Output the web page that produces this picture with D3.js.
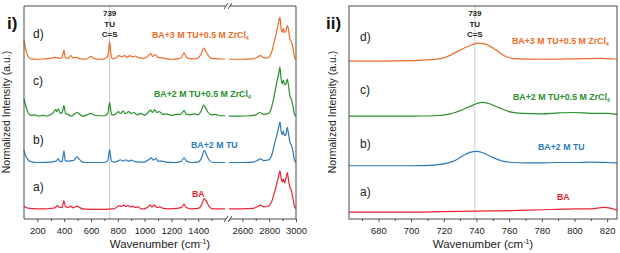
<!DOCTYPE html>
<html>
<head>
<meta charset="utf-8">
<script src="https://cdn.jsdelivr.net/npm/d3@7"></script>
<style>
  body { margin: 0; background: #fff; }
  svg { display: block; font-family: "Liberation Sans", Arial, sans-serif; }
</style>
</head>
<body>
<svg id="chart" width="620" height="253"></svg>
<script>
// ---- data ----
const tags = ["a)", "b)", "c)", "d)"];
const labels = ["BA", "BA+2 M TU", "BA+2 M TU+0.5 M ZrCl", "BA+3 M TU+0.5 M ZrCl"];
const labelSubs = ["", "", "4", "4"];
const colors = ["#ef2233", "#2c7bbd", "#27902a", "#ef6b24"];
const peakPos = 739;
const peakText = ["739", "TU", "C=S"];

// stacking offsets (a.u.)
const offsetsFull = [0, 1, 2, 3.23];
const offsetsZoom = [0, 1, 2.07, 3.26];

// tick labels
const ticksLow = [200, 400, 600, 800, 1000, 1200, 1400];
const ticksHigh = [2600, 2800, 3000];
const minorLow = [300, 500, 700, 900, 1100, 1300, 1500];
const minorHigh = [2500, 2700, 2900];
const ticksZoom = [680, 700, 720, 740, 760, 780, 800, 820];
const minorZoom = [670, 690, 710, 730, 750, 770, 790, 810];

// panel i spectra [wavenumber, intensity]
const fullA = [[100,.08],[115,.05],[140,.03],[200,.02],[260,.02],[300,.03],[330,.04],[350,.09],[365,.05],[385,.05],[398,.2],[408,.07],[430,.05],[450,.08],[465,.04],[480,.06],[495,.08],[515,.05],[540,.02],[600,.01],[700,.01],[760,.02],[790,.05],[810,.09],[825,.07],[845,.1],[860,.07],[875,.09],[895,.06],[910,.08],[930,.05],[950,.06],[975,.02],[1000,.02],[1025,.06],[1040,.1],[1055,.06],[1075,.1],[1090,.05],[1115,.06],[1140,.03],[1180,.02],[1240,.03],[1275,.05],[1295,.12],[1310,.05],[1350,.02],[1400,.03],[1425,.1],[1445,.24],[1460,.18],[1480,.08],[1510,.02],[1600,.02],
  [2500,.02],[2600,.02],[2680,.03],[2715,.07],[2735,.1],[2760,.06],[2790,.07],[2815,.15],[2840,.38],[2860,.6],[2872,.75],[2880,.84],[2888,.7],[2897,.6],[2905,.66],[2915,.58],[2925,.68],[2935,.8],[2945,.62],[2955,.48],[2965,.42],[2975,.28],[2988,.08],[3000,.02]];
const fullB = [[100,.28],[110,.18],[125,.1],[150,.04],[200,.02],[300,.03],[340,.05],[355,.1],[370,.04],[385,.05],[398,.27],[408,.06],[430,.05],[455,.06],[475,.07],[495,.15],[510,.1],[530,.04],[560,.02],[650,.02],[700,.02],[725,.06],[733,.2],[739,.3],[745,.18],[752,.05],[770,.03],[800,.05],[820,.08],[840,.05],[860,.08],[880,.05],[900,.07],[930,.04],[960,.03],[1000,.03],[1030,.08],[1050,.12],[1065,.07],[1085,.11],[1100,.05],[1130,.05],[1160,.03],[1220,.02],[1270,.04],[1295,.12],[1310,.06],[1350,.02],[1400,.03],[1425,.12],[1445,.28],[1460,.2],[1480,.08],[1510,.02],[1600,.02],
  [2500,.02],[2600,.02],[2680,.03],[2715,.07],[2735,.1],[2760,.06],[2790,.07],[2815,.15],[2840,.42],[2860,.65],[2872,.8],[2880,.9],[2888,.72],[2897,.62],[2905,.7],[2915,.6],[2925,.62],[2935,.78],[2943,.66],[2955,.45],[2968,.38],[2978,.25],[2988,.08],[3000,.02]];
const fullC = [[100,.4],[108,.3],[118,.2],[130,.1],[150,.04],[180,.05],[210,.02],[240,.04],[270,.02],[300,.06],[320,.1],[335,.16],[345,.12],[355,.18],[370,.08],[385,.1],[398,.25],[410,.08],[430,.06],[450,.02],[470,.05],[495,.1],[515,.06],[540,.02],[570,.05],[600,.08],[625,.04],[660,.03],[700,.03],[725,.08],[733,.22],[739,.32],[746,.18],[755,.05],[770,.05],[790,.08],[805,.12],[820,.08],[840,.13],[860,.07],[880,.12],[900,.08],[920,.1],[945,.05],[970,.08],[1000,.04],[1020,.08],[1045,.15],[1060,.1],[1075,.16],[1090,.1],[1110,.12],[1135,.06],[1165,.07],[1200,.04],[1240,.06],[1270,.06],[1295,.14],[1310,.06],[1340,.05],[1370,.07],[1400,.05],[1420,.12],[1440,.26],[1455,.2],[1475,.1],[1500,.05],[1530,.06],[1560,.03],[1600,.03],
  [2500,.02],[2580,.02],[2650,.03],[2700,.05],[2730,.1],[2760,.06],[2790,.07],[2815,.18],[2840,.5],[2860,.8],[2872,.95],[2880,1.08],[2888,.85],[2897,.72],[2905,.8],[2915,.7],[2925,.72],[2935,.82],[2943,.7],[2955,.45],[2968,.36],[2978,.22],[2988,.06],[3000,.02]];
const fullD = [[100,.42],[108,.3],[118,.18],[130,.08],[150,.03],[200,.02],[250,.03],[300,.04],[330,.06],[350,.05],[370,.04],[385,.06],[398,.22],[408,.06],[430,.04],[450,.1],[465,.05],[490,.06],[520,.03],[560,.02],[600,.08],[620,.04],[660,.02],[700,.03],[725,.08],[733,.25],[739,.4],[746,.2],[755,.05],[770,.03],[790,.06],[810,.1],[830,.07],[850,.1],[870,.06],[890,.1],[910,.07],[930,.09],[960,.05],[990,.04],[1020,.07],[1045,.14],[1060,.08],[1080,.12],[1100,.06],[1130,.05],[1165,.03],[1200,.02],[1250,.03],[1275,.06],[1295,.16],[1310,.07],[1340,.03],[1380,.03],[1420,.12],[1440,.26],[1455,.2],[1475,.1],[1500,.04],[1550,.03],[1600,.02],
  [2500,.02],[2600,.02],[2680,.03],[2715,.07],[2735,.1],[2760,.05],[2790,.05],[2815,.15],[2840,.42],[2860,.68],[2872,.85],[2880,.93],[2888,.7],[2897,.6],[2905,.68],[2915,.6],[2925,.62],[2935,.75],[2943,.68],[2955,.45],[2968,.38],[2978,.25],[2988,.08],[3000,.02]];

// panel ii spectra
const zoomA = [[662,0],[680,0],[700,0],[720,.01],[740,.02],[760,.03],[780,.05],[790,.06],[800,.07],[810,.07],[818,.1],[821,.09],[826,.04]];
const zoomB = [[662,0],[680,0],[700,0],[712,.01],[720,.04],[726,.1],[732,.22],[736,.29],[740,.31],[744,.28],[750,.18],[756,.1],[762,.07],[770,.06],[780,.06],[790,.07],[800,.07],[810,.08],[820,.07],[826,.06]];
const zoomC = [[662,0],[680,0],[700,0],[715,.01],[724,.05],[732,.15],[738,.24],[743,.3],[748,.27],[754,.18],[760,.1],[768,.06],[780,.05],[790,.07],[800,.08],[810,.06],[820,.06],[826,.04]];
const zoomD = [[662,0],[680,0],[700,.01],[712,.03],[720,.07],[728,.2],[735,.32],[741,.39],[746,.36],[752,.24],[758,.1],[765,.05],[780,.04],[800,.05],[815,.06],[826,.04]];

const fullSpectra = [fullA, fullB, fullC, fullD];
const zoomSpectra = [zoomA, zoomB, zoomC, zoomD];

// ---- drawing ----
const svg = d3.select("#chart");
const plotTop = 6, plotBottom = 219;
const frameColor = "#4a4a4a";

function addTicks(g, scale, major, minor) {
  const ax = g.append("g").attr("transform", `translate(0,${plotBottom})`)
    .call(d3.axisBottom(scale).tickValues(major).tickFormat(d3.format("d")).tickSize(3).tickPadding(5));
  ax.select(".domain").remove();
  ax.selectAll("text").attr("font-size", 9.4).attr("fill", "#222");
  ax.attr("font-family", null).attr("font-size", null);
  ax.selectAll("line").attr("stroke", frameColor);
  const mn = g.append("g").attr("transform", `translate(0,${plotBottom})`)
    .call(d3.axisBottom(scale).tickValues(minor).tickSize(2).tickFormat(""));
  mn.select(".domain").remove();
  mn.selectAll("line").attr("stroke", frameColor);
}

function addText(g, pieces) {
  pieces.forEach(p => {
    const t = g.append("text").attr("x", p.x).attr("y", p.y)
      .attr("font-size", p.size).attr("font-weight", p.bold ? "bold" : null)
      .attr("fill", p.fill || "#222").attr("text-anchor", p.anchor || "start")
      .text(p.text);
    if (p.sub) t.append("tspan").attr("font-size", p.size * 0.62).attr("dy", 2).text(p.sub);
  });
}

function axisTitles(g, cx, ylabX, panelName, nameX) {
  const t = g.append("text").attr("x", cx).attr("y", 248).attr("text-anchor", "middle")
    .attr("font-size", 11.5).attr("fill", "#222").text("Wavenumber (cm");
  t.append("tspan").attr("font-size", 7).attr("dy", -4).text("-1");
  t.append("tspan").attr("dy", 4).text(")");
  g.append("text").attr("transform", `translate(${ylabX},112) rotate(-90)`)
    .attr("text-anchor", "middle").attr("font-size", 10.5).attr("fill", "#222")
    .text("Normalized Intensity (a.u.)");
  g.append("text").attr("x", nameX).attr("y", 29).attr("font-size", 17)
    .attr("font-weight", "bold").attr("fill", "#111").text(panelName);
}

// ----- panel i -----
{
  const g = svg.append("g");
  const left = 24, right = 296, gapL = 225, gapR = 229;
  const xLow = d3.scaleLinear().domain([100, 1600]).range([left, gapL]);
  const xHigh = d3.scaleLinear().domain([2500, 3000]).range([gapR, right]);
  const y = d3.scaleLinear().domain([-0.2, 4.4]).range([plotBottom, plotTop]);

  g.append("line").attr("x1", xLow(peakPos)).attr("x2", xLow(peakPos))
    .attr("y1", plotTop).attr("y2", plotBottom).attr("stroke", "#d0d0d0").attr("stroke-width", 1);

  fullSpectra.forEach((s, i) => {
    const lowPts = s.filter(d => d[0] <= 1600);
    const highPts = s.filter(d => d[0] >= 2500);
    const lineLow = d3.line().x(d => xLow(d[0])).y(d => y(d[1] + offsetsFull[i])).curve(d3.curveMonotoneX);
    const lineHigh = d3.line().x(d => xHigh(d[0])).y(d => y(d[1] + offsetsFull[i])).curve(d3.curveMonotoneX);
    g.append("path").attr("d", lineLow(lowPts)).attr("fill", "none").attr("stroke", colors[i]).attr("stroke-width", 1.2);
    g.append("path").attr("d", lineHigh(highPts)).attr("fill", "none").attr("stroke", colors[i]).attr("stroke-width", 1.2);
  });

  // broken frame
  const fp = d3.path();
  fp.moveTo(gapL + 1, plotTop); fp.lineTo(left, plotTop); fp.lineTo(left, plotBottom); fp.lineTo(gapL + 1, plotBottom);
  fp.moveTo(gapR + 1, plotTop); fp.lineTo(right, plotTop); fp.lineTo(right, plotBottom); fp.lineTo(gapR + 1, plotBottom);
  g.append("path").attr("d", fp.toString()).attr("fill", "none").attr("stroke", frameColor).attr("stroke-width", 1);
  [plotTop, plotBottom].forEach(yy => {
    [gapL - 1, gapR - 1].forEach(xx => {
      g.append("line").attr("x1", xx).attr("y1", yy + 3).attr("x2", xx + 4).attr("y2", yy - 3)
        .attr("stroke", frameColor).attr("stroke-width", 1);
    });
  });

  addTicks(g, xLow, ticksLow, minorLow);
  addTicks(g, xHigh, ticksHigh, minorHigh);

  addText(g, peakText.map((t, k) => ({ x: xLow(peakPos), y: 16 + k * 10.5, size: 8, bold: true, anchor: "middle", text: t })));
  addText(g, tags.map((t, k) => ({ x: 33, y: [191, 144, 85, 38][k], size: 12, text: t })));
  addText(g, labels.map((t, k) => ({ x: [192, 191, 154, 152][k], y: [197, 148, 97, 38][k], size: 8.8, bold: true, fill: colors[k], text: t, sub: labelSubs[k] })));

  axisTitles(g, (left + right) / 2, 10, "i)", 7);
}

// ----- panel ii -----
{
  const g = svg.append("g");
  const left = 349, right = 617;
  const x = d3.scaleLinear().domain([662, 826]).range([left, right]);
  const y = d3.scaleLinear().domain([-0.15, 4.45]).range([plotBottom, plotTop]);

  g.append("line").attr("x1", x(peakPos)).attr("x2", x(peakPos))
    .attr("y1", plotTop).attr("y2", plotBottom).attr("stroke", "#d0d0d0").attr("stroke-width", 1);

  zoomSpectra.forEach((s, i) => {
    const line = d3.line().x(d => x(d[0])).y(d => y(d[1] + offsetsZoom[i])).curve(d3.curveMonotoneX);
    g.append("path").attr("d", line(s)).attr("fill", "none").attr("stroke", colors[i]).attr("stroke-width", 1.2);
  });

  g.append("rect").attr("x", left).attr("y", plotTop).attr("width", right - left).attr("height", plotBottom - plotTop)
    .attr("fill", "none").attr("stroke", frameColor).attr("stroke-width", 1);

  addTicks(g, x, ticksZoom, minorZoom);

  addText(g, peakText.map((t, k) => ({ x: x(peakPos), y: 16 + k * 10.5, size: 8, bold: true, anchor: "middle", text: t })));
  addText(g, tags.map((t, k) => ({ x: 360, y: [196, 148, 94, 41][k], size: 12, text: t })));
  addText(g, labels.map((t, k) => ({ x: [557, 538, 513, 512][k], y: [200, 150, 100, 44][k], size: 8.8, bold: true, fill: colors[k], text: t, sub: labelSubs[k] })));

  axisTitles(g, (left + right) / 2, 336, "ii)", 326);
}
</script>
</body>
</html>
